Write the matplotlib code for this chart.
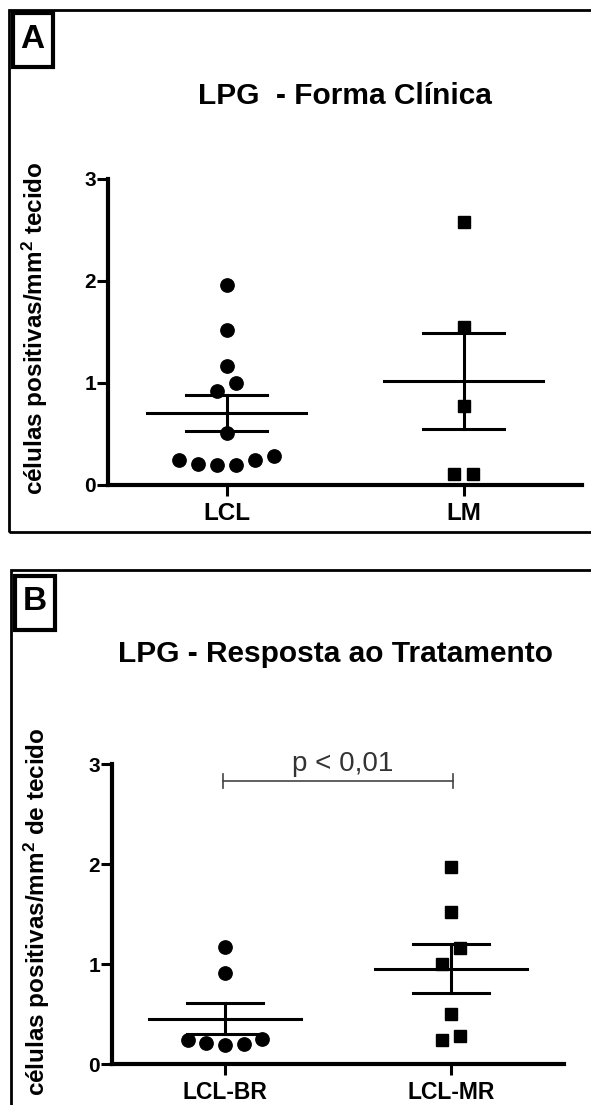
import numpy as np
import matplotlib
matplotlib.use("Agg")
import matplotlib.pyplot as plt
from matplotlib.patches import Rectangle

plt.rcParams['font.family'] = ['Liberation Sans', 'DejaVu Sans']
plt.rcParams['mathtext.fontset'] = 'custom'
plt.rcParams['mathtext.rm'] = 'Liberation Sans:bold'
plt.rcParams['mathtext.bf'] = 'Liberation Sans:bold'
plt.rcParams['mathtext.it'] = 'Liberation Sans:bold'

# ── DATA (células positivas / mm² tecido) ─────────────────────────────────
lcl      = [1.96, 1.52, 1.17, 1.00, 0.92, 0.51, 0.28, 0.25, 0.25, 0.21, 0.20, 0.20]
lcl_slot = [0, 0, 0, 0.5, -0.5, 0, 2.5, 1.5, -2.5, -1.5, -0.5, 0.5]
lm       = [2.58, 1.55, 0.77, 0.11, 0.11]
lm_slot  = [0, 0, 0, -0.5, 0.5]

lcl_br      = [1.17, 0.91, 0.24, 0.21, 0.19, 0.20, 0.25]
lcl_br_slot = [0, 0, -2, -1, 0, 1, 2]
lcl_mr      = [1.97, 1.52, 1.16, 1.00, 0.50, 0.28, 0.24]
lcl_mr_slot = [0, 0, 0.5, -0.5, 0, 0.5, -0.5]

groups_a = ["LCL", "LM"]
groups_b = ["LCL-BR", "LCL-MR"]
p_text = "p < 0,01"

W, H = 591, 1105
fig = plt.figure(figsize=(W / 100, H / 100), dpi=100, facecolor='white')


def px_rect(x0, y0, x1, y1):
    # pixel box (top-left origin) -> figure fraction [l, b, w, h]
    return [x0 / W, 1 - y1 / H, (x1 - x0) / W, (y1 - y0) / H]


def dot_panel(rect, series, slots, markers, names, slot_w, xt_size):
    ax = fig.add_axes(rect)
    for i, (vals, sl, mk) in enumerate(zip(series, slots, markers)):
        vals = np.array(vals)
        xs = i + np.array(sl) * slot_w
        ms = 9.6 if mk == 'o' else 8.8
        ax.plot(xs, vals, ls='none', marker=mk, ms=ms, color='black',
                mec='black', clip_on=False, zorder=3)
        mean = vals.mean()
        sem = vals.std(ddof=1) / np.sqrt(len(vals))
        ax.plot([i - 0.335, i + 0.335], [mean, mean], color='black', lw=2.2, zorder=4)
        ax.plot([i - 0.17, i + 0.17], [mean + sem] * 2, color='black', lw=2.2, zorder=4)
        ax.plot([i - 0.17, i + 0.17], [mean - sem] * 2, color='black', lw=2.2, zorder=4)
        ax.plot([i, i], [mean - sem, mean + sem], color='black', lw=2.2, zorder=4)
    ax.set_xlim(-0.5, 1.5)
    ax.set_ylim(0, 3)
    for s in ['top', 'right']:
        ax.spines[s].set_visible(False)
    for s in ['left', 'bottom']:
        ax.spines[s].set_linewidth(3)
    ax.set_yticks([0, 1, 2, 3])
    ax.set_yticklabels(['0', '1', '2', '3'], fontsize=15, fontweight='bold')
    ax.set_xticks([0, 1])
    ax.set_xticklabels(names, fontsize=xt_size, fontweight='bold')
    ax.tick_params(axis='y', length=8, width=2.2, pad=0.5)
    ax.tick_params(axis='x', length=8, width=2.2, pad=4)
    return ax


def frame_and_letter(outer, box, letter, letter_xy):
    fig.add_artist(Rectangle((outer[0], outer[1]), outer[2], outer[3],
                             transform=fig.transFigure, fill=False,
                             ec='black', lw=2, clip_on=False))
    fig.add_artist(Rectangle((box[0], box[1]), box[2], box[3],
                             transform=fig.transFigure, fill=False,
                             ec='black', lw=3, clip_on=False))
    fig.text(letter_xy[0] / W, 1 - letter_xy[1] / H, letter, fontsize=24,
             fontweight='bold', ha='center', va='center')


# ── PANEL A ───────────────────────────────────────────────────────────────
frame_and_letter(px_rect(8.5, 10, 700, 532), px_rect(13, 13, 53, 67), "A", (32, 40))
fig.text(345 / W, 1 - 104 / H, "LPG  - Forma Clínica", fontsize=21.5,
         fontweight='bold', ha='center', va='baseline')
ax_a = dot_panel(px_rect(108, 179, 582, 485), [lcl, lm], [lcl_slot, lm_slot],
                 ['o', 's'], groups_a, 0.08, 17.5)
fig.text(35 / W, 1 - 328 / H, r"células positivas/mm$^2$ tecido", rotation=90,
         fontsize=17.5, fontweight='bold', ha='center', va='center')

# ── PANEL B ───────────────────────────────────────────────────────────────
frame_and_letter(px_rect(11, 570, 700, 1300), px_rect(15, 576, 55, 630), "B", (35, 602))
fig.text(336 / W, 1 - 662 / H, "LPG - Resposta ao Tratamento", fontsize=21.5,
         fontweight='bold', ha='center', va='baseline')
ax_b = dot_panel(px_rect(112, 764, 564, 1064), [lcl_br, lcl_mr],
                 [lcl_br_slot, lcl_mr_slot], ['o', 's'], groups_b, 0.082, 16.5)
fig.text(37 / W, 1 - 912 / H, r"células positivas/mm$^2$ de tecido", rotation=90,
         fontsize=17.5, fontweight='bold', ha='center', va='center')

# significance bracket
ax_b.plot([-0.01, 1.01], [2.83, 2.83], color='#444444', lw=1.2, clip_on=False)
ax_b.plot([-0.01, -0.01], [2.76, 2.90], color='#444444', lw=1.2, clip_on=False)
ax_b.plot([1.01, 1.01], [2.76, 2.90], color='#444444', lw=1.2, clip_on=False)
ax_b.text(0.52, 2.93, p_text, fontsize=20, color='#333333', ha='center',
          va='baseline', clip_on=False)

plt.savefig("out.png", dpi=100, facecolor='white')
